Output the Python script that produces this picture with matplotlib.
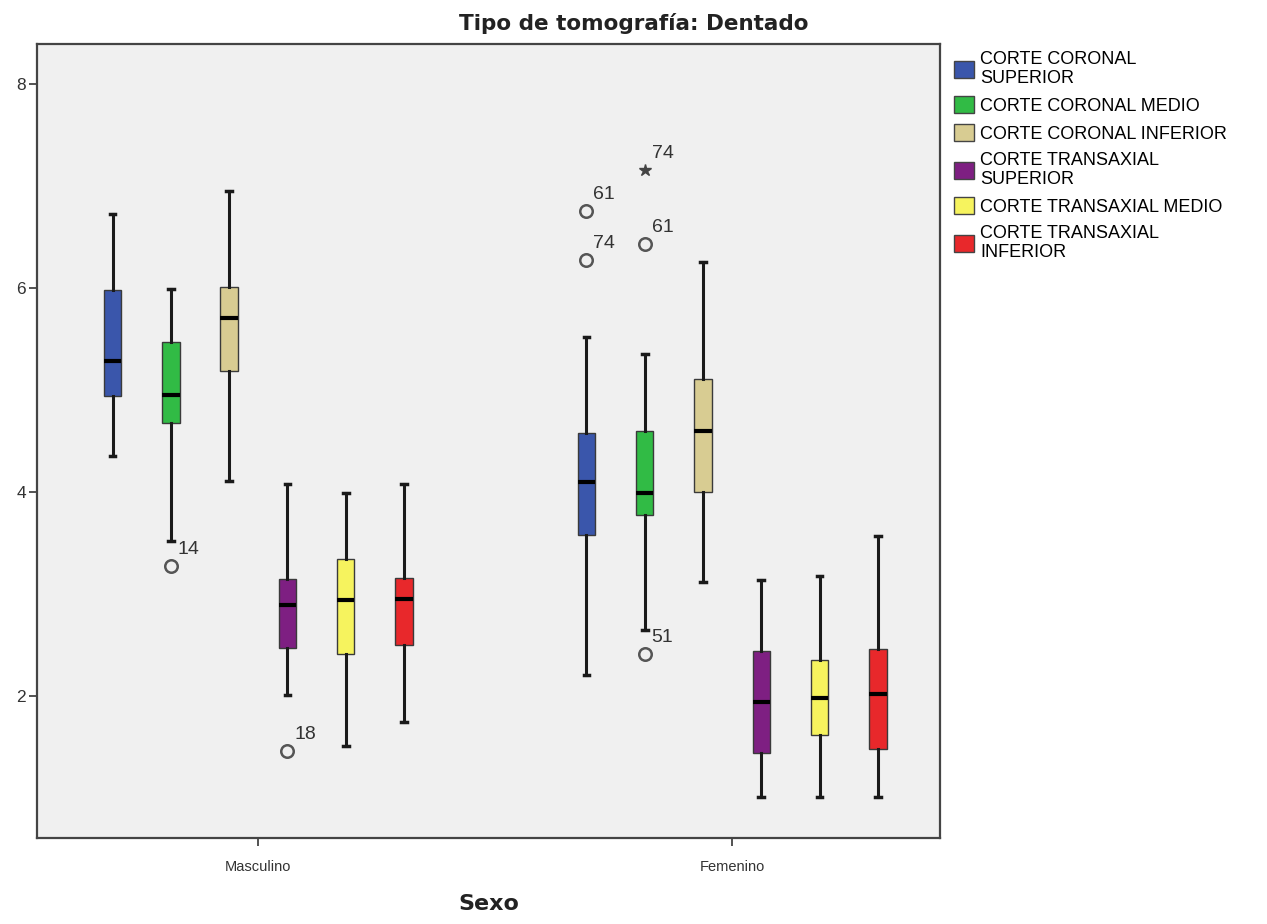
import matplotlib
matplotlib.use("Agg")
import matplotlib.pyplot as plt
from matplotlib.patches import Patch

plt.rcParams['font.family'] = ['Liberation Sans', 'DejaVu Sans']

# datos (Tipo de tomografia: Dentado)
grupos = ["Masculino", "Femenino"]
series = ["CORTE CORONAL\nSUPERIOR", "CORTE CORONAL MEDIO", "CORTE CORONAL INFERIOR",
          "CORTE TRANSAXIAL\nSUPERIOR", "CORTE TRANSAXIAL MEDIO", "CORTE TRANSAXIAL\nINFERIOR"]
colores = ["#3a56ab", "#31bb45", "#d8cc92", "#7e1f82", "#f6f35e", "#e8282b"]

# [whislo, q1, med, q3, whishi] por serie
masc = [[4.35, 4.94, 5.28, 5.98, 6.72],
        [3.52, 4.68, 4.95, 5.47, 5.99],
        [4.11, 5.18, 5.70, 6.01, 6.95],
        [2.01, 2.47, 2.89, 3.15, 4.08],
        [1.51, 2.41, 2.94, 3.34, 3.99],
        [1.74, 2.50, 2.95, 3.16, 4.08]]
fem = [[2.21, 3.58, 4.10, 4.58, 5.52],
       [2.65, 3.77, 3.99, 4.60, 5.35],
       [3.12, 4.00, 4.60, 5.11, 6.25],
       [1.01, 1.44, 1.94, 2.44, 3.14],
       [1.01, 1.62, 1.98, 2.35, 3.18],
       [1.01, 1.48, 2.02, 2.46, 3.57]]

# atipicos: (grupo, serie, valor, etiqueta)
atipicos = [(0, 1, 3.27, "14"), (0, 3, 1.46, "18"),
            (1, 0, 6.75, "61"), (1, 0, 6.27, "74"),
            (1, 1, 6.43, "61"), (1, 1, 2.41, "51")]
extremos = [(1, 1, 7.15, "74")]

paso = 0.123
offsets = [(i - 2.5) * paso for i in range(6)]

fig = plt.figure(figsize=(12.67, 9.24), dpi=100)
ax = fig.add_axes([0.0292, 0.0931, 0.7127, 0.8593])
ax.set_facecolor("#f0f0f0")

for g, datos in enumerate([masc, fem]):
    for s, d in enumerate(datos):
        st = {"whislo": d[0], "q1": d[1], "med": d[2], "q3": d[3], "whishi": d[4], "fliers": []}
        ax.bxp([st], positions=[g + offsets[s]], widths=0.037, capwidths=0.012,
               patch_artist=True, showfliers=False,
               boxprops=dict(facecolor=colores[s], edgecolor="#3a3a3a", linewidth=1.0),
               medianprops=dict(color="black", linewidth=3.0),
               whiskerprops=dict(color="#1a1a1a", linewidth=2.2),
               capprops=dict(color="#1a1a1a", linewidth=2.5),
               manage_ticks=False, zorder=2)

for g, s, v, lab in atipicos:
    x = g + offsets[s]
    ax.plot(x, v, marker="o", ms=9, mfc="none", mec="#555555", mew=1.8, zorder=3)
    ax.annotate(lab, (x, v), xytext=(5, 6), textcoords="offset points",
                fontsize=14, color="#333333", ha="left", va="bottom")
for g, s, v, lab in extremos:
    x = g + offsets[s]
    ax.plot(x, v, marker="*", ms=9, color="#444444", zorder=3)
    ax.annotate(lab, (x, v), xytext=(5, 6), textcoords="offset points",
                fontsize=14, color="#333333", ha="left", va="bottom")

ax.set_xlim(-0.467, 1.4386)
ax.set_ylim(0.608, 8.39)
ax.set_xticks([0, 1])
ax.set_xticklabels(grupos, fontsize=10.5, color="#333333")
ax.set_yticks([2, 4, 6, 8])
ax.set_yticklabels(["2", "4", "6", "8"], fontsize=12.5, color="#333333")
ax.tick_params(direction="out", length=6, width=1.3, color="#444444")
ax.tick_params(axis="x", pad=10)
ax.tick_params(axis="y", pad=2)
for sp in ax.spines.values():
    sp.set_color("#444444")
    sp.set_linewidth(1.6)

ax.set_xlabel("Sexo", fontsize=16, fontweight="bold", labelpad=14, color="#222222",
              family="DejaVu Sans")
fig.text(0.5, 0.975, "Tipo de tomografía: Dentado", ha="center", va="center",
         fontsize=15.5, fontweight="bold", color="#222222", family="DejaVu Sans")

handles = [Patch(facecolor=c, edgecolor="#444444", linewidth=1.0) for c in colores]
fig.legend(handles, series, loc="upper left", bbox_to_anchor=(0.753, 0.945),
           frameon=False, fontsize=13, handlelength=1.1, handleheight=1.05,
           handletextpad=0.35, labelspacing=0.5, borderaxespad=0, borderpad=0)

fig.savefig("out.png", dpi=100)
